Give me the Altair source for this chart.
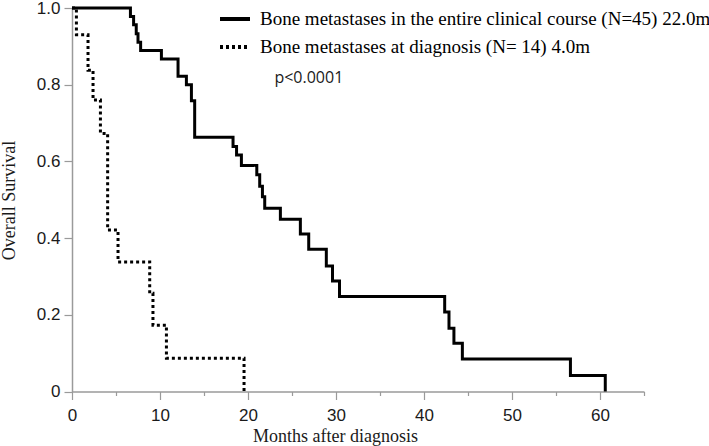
import altair as alt
import pandas as pd

S1 = "Bone metastases in the entire clinical course (N=45) 22.0m"
S2 = "Bone metastases at diagnosis (N= 14) 4.0m"

months_all = [0, 6.64, 7.0, 7.3, 7.5, 7.8, 10.16, 12.05, 13.0, 13.57, 13.94,
              18.3, 18.7, 19.25, 21.0, 21.33, 21.64, 21.9, 23.68, 25.95, 26.9,
              28.9, 29.6, 30.4, 42.35, 42.84, 43.4, 44.36, 56.64, 60.6]
surv_all = [1.0, 0.978, 0.956, 0.933, 0.911, 0.889, 0.867, 0.822, 0.80, 0.758, 0.663,
            0.639, 0.617, 0.589, 0.565, 0.535, 0.508, 0.478, 0.449, 0.411, 0.371,
            0.327, 0.288, 0.248, 0.207, 0.165, 0.126, 0.085, 0.042, 0.0]

months_dx = [0, 0.5, 1.82, 2.39, 3.23, 4.05, 5.23, 8.83, 9.2, 10.73, 19.55]
surv_dx = [1.0, 0.93, 0.838, 0.76, 0.673, 0.421, 0.338, 0.256, 0.173, 0.087, 0.0]

x_ticks = [0, 5, 10, 15, 20, 25, 30, 35, 40, 45, 50, 55, 60, 65]
y_ticks = [0, 0.1, 0.2, 0.3, 0.4, 0.5, 0.6, 0.7, 0.8, 0.9, 1.0]

p_text = "p<0.0001"
p_month, p_surv = 23.0, 0.817

df = pd.concat([
    pd.DataFrame({"month": months_all, "surv": surv_all, "group": S1, "order": range(len(months_all))}),
    pd.DataFrame({"month": months_dx, "surv": surv_dx, "group": S2, "order": range(len(months_dx))}),
])

AXIS_GRAY = "#9a9a9a"
LABEL_COLOR = "#1a1a1a"

x_enc = alt.X(
    "month:Q",
    scale=alt.Scale(domain=[0, 65], nice=False),
    axis=alt.Axis(
        values=x_ticks,
        labelExpr="datum.value % 10 == 0 ? datum.label : ''",
        tickSize={"condition": {"test": "datum.value % 10 == 0", "value": 8}, "value": 4},
        title="Months after diagnosis",
        titleFont="Liberation Serif", titleFontSize=18, titleFontWeight="normal",
        titleColor=LABEL_COLOR,
        titleX=263, titleY=45, titleAnchor="start", titleAlign="center", titleBaseline="middle",
        labelFont="Liberation Sans", labelFontSize=17, labelColor=LABEL_COLOR,
        labelPadding=8, domainColor=AXIS_GRAY, tickColor=AXIS_GRAY,
        domainWidth=1.5, tickWidth=1.2, grid=False, labelFlush=False,
    ),
)
y_enc = alt.Y(
    "surv:Q",
    scale=alt.Scale(domain=[0, 1], nice=False),
    axis=alt.Axis(
        values=y_ticks,
        labelExpr="abs(round(datum.value*5) - datum.value*5) < 0.01 ? (datum.value == 0 ? '0' : format(datum.value, '.1f')) : ''",
        tickSize={"condition": {"test": "abs(round(datum.value*5) - datum.value*5) < 0.01", "value": 8}, "value": 4},
        title="Overall Survival",
        titleFont="Liberation Serif", titleFontSize=18, titleFontWeight="normal",
        titleColor=LABEL_COLOR,
        titleX=-63, titleY=192, titleAlign="center", titleBaseline="middle", titleAngle=270,
        labelFont="Liberation Sans", labelFontSize=17, labelColor=LABEL_COLOR,
        labelPadding=4, domainColor=AXIS_GRAY, tickColor=AXIS_GRAY,
        domainWidth=1.5, tickWidth=1.2, grid=False, labelFlush=False,
    ),
)

lines = alt.Chart(df).mark_line(
    interpolate="step-after", color="black", strokeWidth=3, strokeCap="butt"
).encode(
    x=x_enc,
    y=y_enc,
    order="order:Q",
    detail="group:N",
    strokeDash=alt.StrokeDash(
        "group:N",
        scale=alt.Scale(domain=[S1, S2], range=[[1, 0], [3, 3]]),
        legend=alt.Legend(
            orient="none", legendX=146, legendY=-6, title=None,
            symbolType="stroke", symbolSize=900, symbolStrokeWidth=4,
            symbolStrokeColor="black", labelFont="Liberation Serif",
            labelFontSize=19, labelColor="black", rowPadding=1,
            labelOffset=8, padding=0, labelLimit=0,
        ),
    ),
)

ptext = alt.Chart(pd.DataFrame({"month": [p_month], "surv": [p_surv], "t": [p_text]})).mark_text(
    align="left", baseline="middle", font="Open Sans", fontSize=16, color="#1a1a1a"
).encode(x="month:Q", y="surv:Q", text="t:N")

chart = alt.layer(lines, ptext).properties(
    width=572, height=383.5,
    padding={"left": 72, "top": 8, "right": 65, "bottom": 54},
    autosize=alt.AutoSizeParams(type="none"),
    background="white",
).configure_view(stroke=None)

chart.save("out.html", embed_options={"renderer": "svg", "actions": False})
